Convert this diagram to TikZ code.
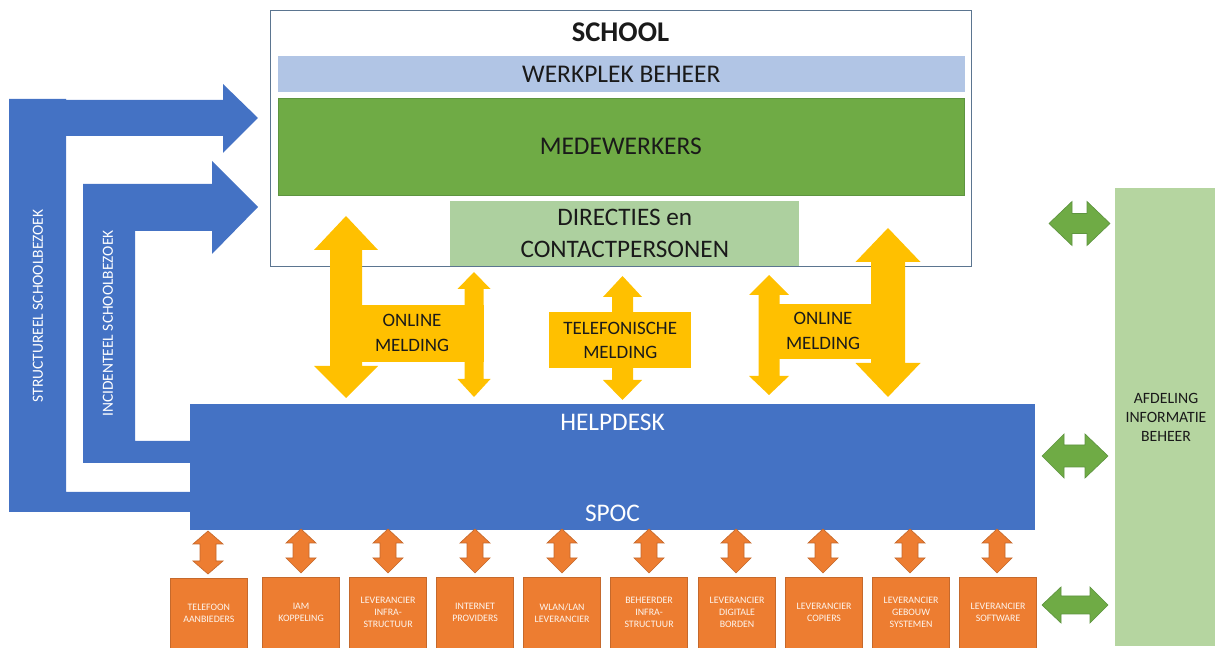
\documentclass[tikz,border=0pt]{standalone}
\usepackage{fontspec}
\setmainfont{Carlito}
\definecolor{bl}{HTML}{4472C4}
\definecolor{yel}{HTML}{FFC000}
\definecolor{org}{HTML}{ED7D31}
\definecolor{orgd}{HTML}{C5692C}
\definecolor{grn}{HTML}{6FAB45}
\definecolor{grnd}{HTML}{5E9440}
\definecolor{lgrn}{HTML}{B5D5A0}
\definecolor{dirg}{HTML}{ADD09F}
\definecolor{wpk}{HTML}{B1C5E5}
\definecolor{frame}{HTML}{5B7590}
\definecolor{ink}{HTML}{1A1A1A}
\tikzset{
  lab/.style={inner sep=0pt,align=center,font=\fontsize{#1}{#1}\selectfont},
  lab/.default=12,
  wh/.style={text=white},
  yfill/.style={fill=yel,draw=none},
  ofill/.style={fill=org,draw=orgd,line width=0.5pt},
  gfill/.style={fill=grn,draw=grnd,line width=0.5pt},
  bfill/.style={fill=bl,draw=none},
  melding/.style={align=center,inner sep=0pt,text=ink,font=\fontsize{14.2}{18.5}\selectfont},
  lever/.style={fill=org,draw=orgd,line width=0.6pt,inner sep=0pt,align=center,text=white!92!org,anchor=north west,minimum height=53pt,minimum width=58pt,font=\fontsize{7.4}{9}\selectfont},
}
% vertical double arrow: style, cx, top tip, top base, bottom base, bottom tip, head half w, shaft half w
\newcommand{\vdarrow}[8]{\draw[#1] (#2,#3) -- (#2+#7,#4) -- (#2+#8,#4) -- (#2+#8,#5) -- (#2+#7,#5) -- (#2,#6) -- (#2-#7,#5) -- (#2-#8,#5) -- (#2-#8,#4) -- (#2-#7,#4) -- cycle;}
% horizontal double arrow: style, cy, left tip, left base, right base, right tip, head half h, shaft half h
\newcommand{\hdarrow}[8]{\draw[#1] (#3,#2) -- (#4,#2-#7) -- (#4,#2-#8) -- (#5,#2-#8) -- (#5,#2-#7) -- (#6,#2) -- (#5,#2+#7) -- (#5,#2+#8) -- (#4,#2+#8) -- (#4,#2+#7) -- cycle;}
\begin{document}
\begin{tikzpicture}[x=0.75pt,y=-0.75pt]
\useasboundingbox (0,0) rectangle (1215,648);
% school
\node[draw=frame,line width=0.9pt,fill=white,minimum width=525.75pt,minimum height=192pt,inner sep=0pt,anchor=north west] (school) at (270,9.7) {};
\node[lab=21.4,text=ink] (schooltxt) at (620.5,32) {\textbf{SCHOOL}};
\node[fill=wpk,minimum width=515.25pt,minimum height=27.5pt,inner sep=0pt,anchor=north west,text=ink,font=\fontsize{19.1}{19.1}\selectfont] (werk) at (277.5,55.5) {WERKPLEK BEHEER};
\node[fill=grn,draw=grnd,line width=0.5pt,minimum width=514.5pt,minimum height=72.5pt,inner sep=0pt,anchor=north west,text=ink,font=\fontsize{19.1}{19.1}\selectfont] (mede) at (277.5,98) {MEDEWERKERS};
\node[fill=dirg,minimum width=261.75pt,minimum height=48.7pt,inner sep=0pt,anchor=north west,align=center,text=ink,font=\fontsize{18.9}{24}\selectfont] (dir) at (450,201) {DIRECTIES en\\CONTACTPERSONEN};
% right panel
\node[fill=lgrn,minimum width=75pt,minimum height=343pt,inner sep=0pt,anchor=north west] (afd) at (1115,188) {};
\node[align=center,inner sep=0pt,text=ink,font=\fontsize{11.8}{14.25}\selectfont] (afdt) at (1166,417) {AFDELING\\INFORMATIE\\BEHEER};
% blue L-arrows
\draw[bfill] (9,99) -- (66,99) -- (66,100) -- (223,100) -- (223,84) -- (258,118) -- (223,153) -- (223,136) -- (66,136) -- (66,492) -- (190,492) -- (190,512) -- (9,512) -- cycle;
\draw[bfill] (83,184) -- (212,184) -- (212,161) -- (258,207) -- (212,254) -- (212,231) -- (135,231) -- (135,441) -- (190,441) -- (190,463) -- (83,463) -- cycle;
\node[rotate=90,wh,lab=11.6] (struct) at (38,306) {STRUCTUREEL SCHOOLBEZOEK};
\node[rotate=90,wh,lab=11.6] (incid) at (108,323.5) {INCIDENTEEL SCHOOLBEZOEK};
% helpdesk
\node[fill=bl,minimum width=633.75pt,minimum height=94.5pt,inner sep=0pt,anchor=north west] (help) at (190,404) {};
\node[wh,lab=19] (helpt) at (612.5,422) {HELPDESK};
\node[wh,lab=19] (spoc) at (612.5,513) {SPOC};
% yellow arrows
\vdarrow{yfill}{346}{216}{250}{366}{398}{32}{16}
\vdarrow{yfill}{474}{272}{289}{379}{397}{16.5}{9.5}
\fill[yel] (346,305) rectangle (484,362);
\node[melding] (on1) at (412,333) {ONLINE\\MELDING};
\vdarrow{yfill}{622.5}{276}{297}{380}{400}{19.5}{10.5}
\node[fill=yel,minimum width=106.5pt,minimum height=42pt,anchor=north west,melding] (tel) at (549,312) {TELEFONISCHE\\MELDING};
\vdarrow{yfill}{769}{275}{295}{376}{395}{20}{10.5}
\vdarrow{yfill}{888}{228}{262}{363}{397}{32.5}{17}
\fill[yel] (769,304) rectangle (888,359);
\node[melding] (on2) at (823,331) {ONLINE\\MELDING};
% orange arrows
\foreach \cx in {301,388,475,562,649,736,823,910,997}{
  \vdarrow{ofill}{\cx}{529}{543}{558}{573}{15}{8}
}
\vdarrow{ofill}{208}{531}{544}{561}{574}{15}{8}
% supplier boxes
\node[lever,minimum width=57.7pt,minimum height=52.5pt] (b1) at (170,578) {TELEFOON\\AANBIEDERS};
\node[lever] (b2) at (262,577) {IAM\\KOPPELING};
\node[lever] (b3) at (349,577) {LEVERANCIER\\INFRA-\\STRUCTUUR};
\node[lever] (b4) at (436,577) {INTERNET\\PROVIDERS};
\node[lever] (b5) at (523,577) {WLAN/LAN\\LEVERANCIER};
\node[lever] (b6) at (610,577) {BEHEERDER\\INFRA-\\STRUCTUUR};
\node[lever] (b7) at (698,577) {LEVERANCIER\\DIGITALE\\BORDEN};
\node[lever] (b8) at (785,577) {LEVERANCIER\\COPIERS};
\node[lever] (b9) at (872,577) {LEVERANCIER\\GEBOUW\\SYSTEMEN};
\node[lever] (b10) at (959,577) {LEVERANCIER\\SOFTWARE};
% green arrows
\hdarrow{gfill}{223.5}{1049}{1072}{1087}{1110}{22}{10}
\hdarrow{gfill}{456}{1042}{1064}{1085}{1108}{22}{11}
\hdarrow{gfill}{605}{1042}{1061}{1090}{1108}{18}{9}
\end{tikzpicture}
\end{document}
